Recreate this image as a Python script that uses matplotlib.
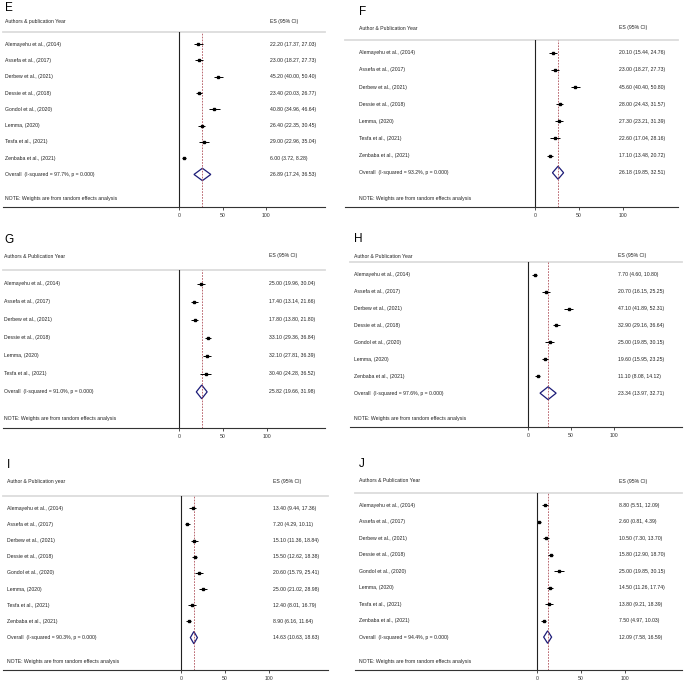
import matplotlib.pyplot as plt
from matplotlib.patches import Polygon

plt.rcParams['font.family'] = ['Liberation Sans', 'DejaVu Sans']

W, H = 685, 681

# ---- data ----
E_header = 'Authors & publication Year'
E_studies = ['Alemayehu et al., (2014)', 'Assefa et al., (2017)', 'Derbew et al., (2021)',
             'Dessie et al., (2018)', 'Gondol et al., (2020)', 'Lemma, (2020)',
             'Tesfa et al., (2021)', 'Zenbaba et al., (2021)']
E_es = [22.20, 23.00, 45.20, 23.40, 40.80, 26.40, 29.00, 6.00]
E_lo = [17.37, 18.27, 40.00, 20.03, 34.96, 22.35, 22.96, 3.72]
E_hi = [27.03, 27.73, 50.40, 26.77, 46.64, 30.45, 35.04, 8.28]
E_overall = [26.89, 17.24, 36.53]
E_i2 = 97.7

F_header = 'Author & Publication Year'
F_studies = ['Alemayehu et al., (2014)', 'Assefa et al., (2017)', 'Derbew et al., (2021)',
             'Dessie et al., (2018)', 'Lemma, (2020)', 'Tesfa et al., (2021)',
             'Zenbaba et al., (2021)']
F_es = [20.10, 23.00, 45.60, 28.00, 27.30, 22.60, 17.10]
F_lo = [15.44, 18.27, 40.40, 24.43, 23.21, 17.04, 13.48]
F_hi = [24.76, 27.73, 50.80, 31.57, 31.39, 28.16, 20.72]
F_overall = [26.18, 19.85, 32.51]
F_i2 = 93.2

G_header = 'Authors & Publication Year'
G_studies = ['Alemayehu et al., (2014)', 'Assefa et al., (2017)', 'Derbew et al., (2021)',
             'Dessie et al., (2018)', 'Lemma, (2020)', 'Tesfa et al., (2021)']
G_es = [25.00, 17.40, 17.80, 33.10, 32.10, 30.40]
G_lo = [19.96, 13.14, 13.80, 29.36, 27.81, 24.28]
G_hi = [30.04, 21.66, 21.80, 36.84, 36.39, 36.52]
G_overall = [25.82, 19.66, 31.98]
G_i2 = 91.0

H_header = 'Author & Publication Year'
H_studies = ['Alemayehu et al., (2014)', 'Assefa et al., (2017)', 'Derbew et al., (2021)',
             'Dessie et al., (2018)', 'Gondol et al., (2020)', 'Lemma, (2020)',
             'Zenbaba et al., (2021)']
H_es = [7.70, 20.70, 47.10, 32.90, 25.00, 19.60, 11.10]
H_lo = [4.60, 16.15, 41.89, 29.16, 19.85, 15.95, 8.08]
H_hi = [10.80, 25.25, 52.31, 36.64, 30.15, 23.25, 14.12]
H_overall = [23.34, 13.97, 32.71]
H_i2 = 97.6

I_header = 'Author & Publication year'
I_studies = ['Alemayehu et al., (2014)', 'Assefa et al., (2017)', 'Derbew et al., (2021)',
             'Dessie et al., (2018)', 'Gondol et al., (2020)', 'Lemma, (2020)',
             'Tesfa et al., (2021)', 'Zenbaba et al., (2021)']
I_es = [13.40, 7.20, 15.10, 15.50, 20.60, 25.00, 12.40, 8.90]
I_lo = [9.44, 4.29, 11.36, 12.62, 15.79, 21.02, 8.01, 6.16]
I_hi = [17.36, 10.11, 18.84, 18.38, 25.41, 28.98, 16.79, 11.64]
I_overall = [14.63, 10.63, 18.63]
I_i2 = 90.3

J_header = 'Authors & Publication Year'
J_studies = ['Alemayehu et al., (2014)', 'Assefa et al., (2017)', 'Derbew et al., (2021)',
             'Dessie et al., (2018)', 'Gondol et al., (2020)', 'Lemma, (2020)',
             'Tesfa et al., (2021)', 'Zenbaba et al., (2021)']
J_es = [8.80, 2.60, 10.50, 15.80, 25.00, 14.50, 13.80, 7.50]
J_lo = [5.51, 0.81, 7.30, 12.90, 19.85, 11.26, 9.21, 4.97]
J_hi = [12.09, 4.39, 13.70, 18.70, 30.15, 17.74, 18.39, 10.03]
J_overall = [12.09, 7.58, 16.59]
J_i2 = 94.4

ticks = [0, 50, 100]
note = 'NOTE: Weights are from random effects analysis'

panels = [
    ('E', E_header, E_studies, E_es, E_lo, E_hi, E_overall, E_i2),
    ('F', F_header, F_studies, F_es, F_lo, F_hi, F_overall, F_i2),
    ('G', G_header, G_studies, G_es, G_lo, G_hi, G_overall, G_i2),
    ('H', H_header, H_studies, H_es, H_lo, H_hi, H_overall, H_i2),
    ('I', I_header, I_studies, I_es, I_lo, I_hi, I_overall, I_i2),
    ('J', J_header, J_studies, J_es, J_lo, J_hi, J_overall, J_i2),
]

# layout in pixels: axis left, axis right, separator y, axis y, x of 0, x of 100,
# label x, ES text x, letter top y, header y
layout = [
    dict(xl=3, xr=325, yt=32, yb=207, x0=179, x100=266, lx=5, ex=270, ly=2, hy=22),
    dict(xl=345, xr=678, yt=40, yb=207, x0=535, x100=623, lx=359, ex=619, ly=6, hy=28),
    dict(xl=3, xr=325, yt=270, yb=428, x0=179, x100=267, lx=4, ex=269, ly=234, hy=256),
    dict(xl=350, xr=682, yt=262, yb=427, x0=528, x100=614, lx=354, ex=618, ly=233, hy=256),
    dict(xl=3, xr=328, yt=496, yb=670, x0=181, x100=269, lx=7, ex=273, ly=459, hy=481),
    dict(xl=355, xr=682, yt=493, yb=670, x0=537, x100=625, lx=359, ex=619, ly=458, hy=481),
]

fs = 3.7
fig = plt.figure(figsize=(W / 100, H / 100), dpi=100)

for (letter, header, studies, es, lo, hi, ov, i2), L in zip(panels, layout):
    ax = fig.add_axes([L['xl'] / W, 1 - L['yb'] / H, (L['xr'] - L['xl']) / W, (L['yb'] - L['yt']) / H])
    sc = (L['x100'] - L['x0']) / 100.0
    ax.set_xlim((L['xl'] - L['x0']) / sc, (L['xr'] - L['x0']) / sc)
    n = len(studies)
    ax.set_ylim(n + 3.0, 0.25)
    for s in ['left', 'right', 'top']:
        ax.spines[s].set_visible(False)
    ax.spines['bottom'].set_linewidth(0.8)
    ax.spines['bottom'].set_color('#333333')
    ax.set_yticks([])
    ax.set_xticks(ticks)
    ax.tick_params(axis='x', length=2.5, width=0.6, pad=1.5, labelsize=fs, colors='#333333')
    ax.axhline(0.25, color='#dcdcdc', lw=1.3, clip_on=False)

    ax.axvline(0, color='#222222', lw=0.8)
    ax.axvline(ov[0], color='#b0505a', lw=0.6, dashes=(2, 1.5))

    rows = list(range(1, n + 1))
    ax.hlines(rows, lo, hi, color='black', lw=0.7)
    ax.plot(es, rows, 's', color='black', ms=1.8)

    yo = n + 1
    d = Polygon([(ov[1], yo), (ov[0], yo - 0.38), (ov[2], yo), (ov[0], yo + 0.38)],
                closed=True, fill=False, edgecolor='#1c1c78', lw=0.9)
    ax.add_patch(d)

    lxd = (L['lx'] - L['x0']) / sc
    exd = (L['ex'] - L['x0']) / sc
    for r, name, e, a, b in zip(rows, studies, es, lo, hi):
        ax.text(lxd, r, name, fontsize=fs, va='center', ha='left', color='#222222')
        ax.text(exd, r, '%.2f (%.2f, %.2f)' % (e, a, b), fontsize=fs, va='center', ha='left', color='#222222')
    ax.text(lxd, yo, 'Overall  (I-squared = %.1f%%, p = 0.000)' % i2, fontsize=fs, va='center', color='#222222')
    ax.text(exd, yo, '%.2f (%.2f, %.2f)' % tuple(ov), fontsize=fs, va='center', color='#222222')
    ax.text(lxd, yo + 1.5, note, fontsize=fs, va='center', color='#222222')

    fig.text(L['lx'] / W, 1 - L['ly'] / H, letter, fontsize=8.5, va='top', ha='left')
    fig.text(L['lx'] / W, 1 - L['hy'] / H, header, fontsize=fs, va='center', ha='left', color='#222222')
    fig.text(L['ex'] / W, 1 - L['hy'] / H, 'ES (95% CI)', fontsize=fs, va='center', ha='left', color='#222222')

fig.savefig('out.png', dpi=100)
